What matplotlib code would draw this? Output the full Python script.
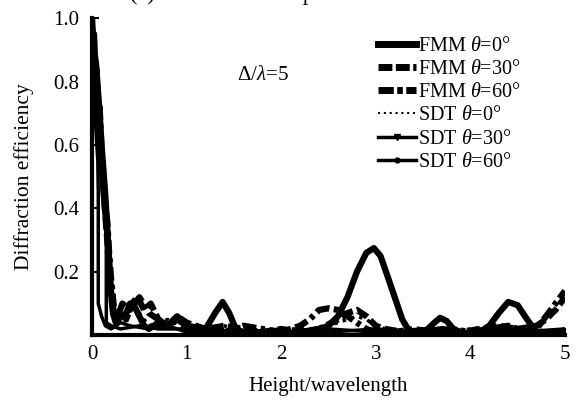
import matplotlib.pyplot as plt
from matplotlib.lines import Line2D

plt.rcParams["font.family"] = ["Liberation Serif", "DejaVu Serif"]
plt.rcParams["mathtext.fontset"] = "custom"
plt.rcParams["mathtext.it"] = "Liberation Serif:italic"
plt.rcParams["mathtext.rm"] = "Liberation Serif"

# data
fmm0_x = [0, 0.01, 0.02, 0.03, 0.04, 0.06, 0.08, 0.1, 0.12, 0.14, 0.16, 0.18, 0.2, 0.22, 0.25,
          0.3, 0.35, 0.4, 0.45, 0.5, 0.55, 0.6, 0.7, 0.8, 0.9, 1.0, 1.1, 1.2, 1.3,
          1.38, 1.45, 1.52, 1.6, 1.8, 2.0, 2.2, 2.4, 2.5, 2.6, 2.7, 2.8, 2.9, 2.98, 3.05, 3.12,
          3.2, 3.28, 3.36, 3.45, 3.55, 3.62, 3.68, 3.75, 3.82, 3.9, 4.0, 4.1, 4.2, 4.3, 4.4,
          4.5, 4.6, 4.7, 4.8, 4.9, 5.0]
fmm0_y = [1.0, 0.93, 0.95, 0.88, 0.86, 0.78, 0.7, 0.6, 0.52, 0.44, 0.34, 0.24, 0.14, 0.07, 0.04,
          0.07, 0.06, 0.1, 0.09, 0.06, 0.03, 0.02, 0.04, 0.03, 0.05, 0.03, 0.01, 0.02, 0.07,
          0.105, 0.07, 0.02, 0.01, 0.01, 0.005, 0.01, 0.02, 0.03, 0.06, 0.12, 0.2, 0.26, 0.275, 0.25, 0.19,
          0.12, 0.05, 0.01, 0.005, 0.02, 0.04, 0.055, 0.045, 0.02, 0.01, 0.005, 0.01, 0.03, 0.07, 0.105,
          0.095, 0.05, 0.01, 0.005, 0.005, 0.01]

fmm30_x = [0, 0.015, 0.03, 0.045, 0.06, 0.08, 0.1, 0.12, 0.14, 0.16, 0.18, 0.21, 0.25, 0.3,
           0.36, 0.42, 0.48, 0.55, 0.62, 0.7, 0.8, 0.9, 1.0, 1.2, 1.4, 1.6, 1.8, 2.0, 2.2, 2.4, 2.6, 2.7,
           2.8, 2.9, 3.0, 3.1, 3.3, 3.5, 3.7, 3.9, 4.1, 4.3, 4.5, 4.7, 4.8, 4.9, 5.0]
fmm30_y = [0.97, 0.9, 0.82, 0.84, 0.75, 0.66, 0.55, 0.47, 0.38, 0.3, 0.2, 0.1, 0.05, 0.08,
           0.05, 0.1, 0.12, 0.08, 0.1, 0.05, 0.03, 0.06, 0.04, 0.02, 0.03, 0.02, 0.01, 0.02, 0.01, 0.02, 0.05, 0.07,
           0.08, 0.06, 0.03, 0.02, 0.01, 0.01, 0.02, 0.01, 0.02, 0.03, 0.02, 0.03, 0.05, 0.08, 0.12]

fmm60_x = [0, 0.02, 0.04, 0.06, 0.08, 0.1, 0.12, 0.14, 0.16, 0.18, 0.2, 0.23, 0.27, 0.32, 0.4,
           0.5, 0.6, 0.7, 0.8, 0.9, 1.0, 1.2, 1.4, 1.6, 1.8, 2.0, 2.1, 2.2, 2.3, 2.4, 2.5, 2.6, 2.7,
           2.8, 2.9, 3.0, 3.2, 3.4, 3.6, 3.8, 4.0, 4.2, 4.4, 4.6, 4.7, 4.8, 4.9, 5.0]
fmm60_y = [0.92, 0.8, 0.85, 0.7, 0.72, 0.58, 0.5, 0.4, 0.36, 0.26, 0.18, 0.09, 0.06, 0.1, 0.08,
           0.12, 0.07, 0.05, 0.03, 0.06, 0.03, 0.02, 0.01, 0.03, 0.02, 0.01, 0.02, 0.03, 0.05, 0.08, 0.085,
           0.08, 0.06, 0.04, 0.02, 0.01, 0.01, 0.02, 0.01, 0.02, 0.01, 0.02, 0.03, 0.01, 0.02, 0.06, 0.1, 0.14]

sdt0_x = [0, 0.01, 0.02, 0.03, 0.05, 0.07, 0.09, 0.11, 0.13, 0.15, 0.17, 0.19, 0.22, 0.3, 0.4,
          0.5, 0.6, 0.8, 1.0, 1.2, 1.4, 1.6, 2.0, 2.4, 2.6, 2.7, 2.8, 2.9, 3.0, 3.1, 3.2, 3.3,
          3.4, 3.6, 3.8, 4.0, 4.3, 4.6, 4.8, 5.0]
sdt0_y = [0.95, 0.88, 0.9, 0.8, 0.74, 0.64, 0.56, 0.46, 0.4, 0.3, 0.22, 0.12, 0.06, 0.05, 0.09,
          0.07, 0.03, 0.05, 0.02, 0.02, 0.03, 0.01, 0.02, 0.02, 0.04, 0.05, 0.06, 0.05, 0.03, 0.02, 0.01, 0.02,
          0.01, 0.02, 0.01, 0.02, 0.03, 0.02, 0.01, 0.02]

sdt30_x = [0, 0.01, 0.02, 0.04, 0.06, 0.065, 0.065, 0.1, 0.14, 0.2, 0.3, 0.4, 0.6, 0.8, 1.0,
           1.5, 2.0, 2.5, 3.0, 3.5, 4.0, 4.5, 5.0]
sdt30_y = [0.9, 0.82, 0.78, 0.65, 0.55, 0.45, 0.1, 0.06, 0.03, 0.02, 0.04, 0.03, 0.02, 0.03, 0.01,
           0.01, 0.01, 0.01, 0.02, 0.01, 0.01, 0.02, 0.01]

sdt60_x = [0, 0.02, 0.04, 0.06, 0.08, 0.1, 0.12, 0.14, 0.15, 0.15, 0.2, 0.3, 0.5, 0.7, 1.0,
           1.5, 2.0, 2.5, 3.0, 3.5, 4.0, 4.5, 5.0]
sdt60_y = [0.86, 0.8, 0.72, 0.66, 0.56, 0.48, 0.4, 0.34, 0.3, 0.04, 0.03, 0.02, 0.03, 0.02, 0.02,
           0.01, 0.01, 0.02, 0.01, 0.02, 0.01, 0.01, 0.02]

labels = [r"FMM $\theta$=0°", r"FMM $\theta$=30°", r"FMM $\theta$=60°",
          r"SDT $\theta$=0°", r"SDT $\theta$=30°", r"SDT $\theta$=60°"]

fig = plt.figure(figsize=(5.83, 4.03), dpi=100)
ax = fig.add_axes([0.158, 0.168, 0.811, 0.787])

ax.plot(fmm0_x, fmm0_y, "k-", linewidth=4.5, solid_capstyle="round", solid_joinstyle="round")
ax.plot(fmm30_x, fmm30_y, color="k", linestyle=(0, (2, 0.7)), linewidth=4.5)
ax.plot(fmm60_x, fmm60_y, color="k", linestyle=(0, (2.2, 0.7, 0.7, 0.7)), linewidth=4.5)
ax.plot(sdt0_x, sdt0_y, color="k", linestyle=(0, (1, 1.5)), linewidth=2.5)
ax.plot(sdt30_x, sdt30_y, "k-", linewidth=2.5)
ax.plot(sdt60_x, sdt60_y, "k-", linewidth=2.5)

handles = [
    Line2D([], [], color="k", linewidth=5),
    Line2D([], [], color="k", linestyle=(0, (2, 0.5)), linewidth=5),
    Line2D([], [], color="k", linestyle=(0, (2.2, 0.5, 0.8, 0.5)), linewidth=5),
    Line2D([], [], color="k", linestyle=(0, (1, 1.8)), linewidth=1.5),
    Line2D([], [], color="k", linewidth=2.5, marker="v", markersize=4),
    Line2D([], [], color="k", linewidth=2.5, marker="o", markersize=3.5),
]
ax.legend(handles, labels, loc="upper right", bbox_to_anchor=(0.935, 0.985), frameon=False,
          fontsize=14.5, handlelength=1.85, handletextpad=0.1, labelspacing=0.2,
          borderpad=0.2)

ax.text(1.81, 0.82, r"$\mathit{\Delta/\lambda}$=5", fontsize=15, ha="center", va="center")

# title row, mostly above the top edge as in the reference
fig.text(0.57, 0.999, "(c) Diffraction comparison of FMM and SDT", fontsize=16,
         ha="center", va="baseline")

ax.set_xlim(0, 5)
ax.set_ylim(0, 1.0)
ax.set_xticks([0, 1, 2, 3, 4, 5])
ax.set_yticks([0.2, 0.4, 0.6, 0.8, 1.0])
ax.set_yticklabels(["0.2", "0.4", "0.6", "0.8", "1.0"])
ax.tick_params(direction="in", length=5, width=1.5, labelsize=15, pad=9)
ax.tick_params(axis="x", pad=7)
for side in ["top", "right"]:
    ax.spines[side].set_visible(False)
for side in ["left", "bottom"]:
    ax.spines[side].set_linewidth(3)

ax.set_xlabel("Height/wavelength", fontsize=15, labelpad=9)
ax.set_ylabel("Diffraction efficiency", fontsize=15.5, labelpad=14)

fig.savefig("out.png", dpi=100)
